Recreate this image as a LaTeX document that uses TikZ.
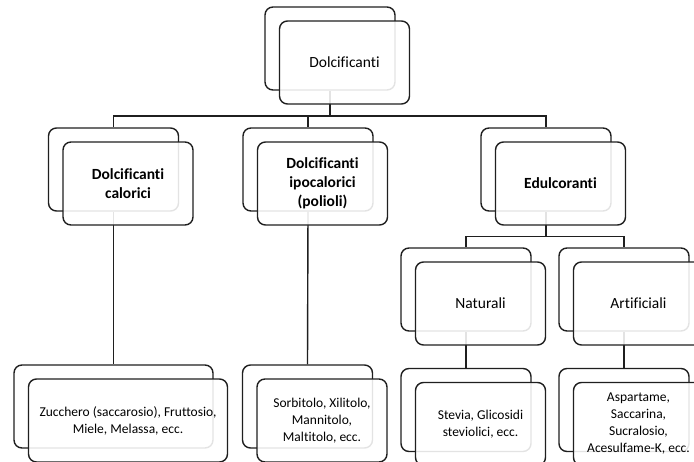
\documentclass[tikz,border=0pt]{standalone}
\usepackage{fontspec}
\setmainfont{Carlito}[Ligatures={NoCommon,NoContextual}]
\usetikzlibrary{backgrounds}

\begin{document}
\begin{tikzpicture}[x=1pt, y=-1pt,
	backbox/.style={rectangle, rounded corners=8pt, draw=black!88, line width=1.4pt, fill=white, minimum width=130pt, minimum height=83pt, align=center, inner sep=2pt},
	frontbox/.style={backbox, fill opacity=0.88, text opacity=1},
	head/.style={font=\fontsize{15.5}{19}\selectfont},
	leaf/.style={font=\fontsize{13.5}{17}\selectfont},
	conn/.style={draw=black!88, line width=1.4pt}]
			\path[use as bounding box, clip] (0,0) rectangle (694,461);
			
			\node[backbox] (root1) at (330,48.5){};
			\node[frontbox, head] (root2) at (344.5,62.5){Dolcificanti};
			
			\node[backbox] (cal1) at (113.5,169.5){};
			\node[frontbox, head] (cal2) at (128,183.5){\bfseries Dolcificanti\\\bfseries calorici};
			
			\node[backbox] (ipo1) at (308,169.5){};
			\node[frontbox, head] (ipo2) at (322.5,183.5){\bfseries Dolcificanti\\\bfseries ipocalorici\\\bfseries (polioli)};
			
			\node[backbox] (edu1) at (546,169.5){};
			\node[frontbox, head] (edu2) at (560.5,183.5){\bfseries Edulcoranti};
			
			\node[backbox] (nat1) at (466,289.5){};
			\node[frontbox, head] (nat2) at (480.5,303.5){Naturali};
			
			\node[backbox] (art1) at (624,289.5){};
			\node[frontbox, head] (art2) at (638.5,303.5){Artificiali};
			
			\node[backbox, minimum width=199pt] (zuc1) at (113.5,406.5){};
			\node[frontbox, leaf, minimum width=199pt] (zuc2) at (128,420.5){Zucchero (saccarosio), Fruttosio,\\Miele, Melassa, ecc.};
			
			\node[backbox] (sor1) at (307.5,406.5){};
			\node[frontbox, leaf] (sor2) at (322,420.5){Sorbitolo, Xilitolo,\\Mannitolo,\\Maltitolo, ecc.};
			
			\node[backbox] (ste1) at (466,410){};
			\node[frontbox, leaf] (ste2) at (480.5,424){Stevia, Glicosidi\\steviolici, ecc.};
			
			\node[backbox] (asp1) at (624,410){};
			\node[frontbox, leaf] (asp2) at (638.5,424){Aspartame,\\Saccarina,\\Sucralosio,\\Acesulfame-K, ecc.};
			
			\begin{scope}[on background layer]
			\coordinate (bus1) at (0,116);
			\coordinate (bus2) at (0,236.5);
			
			\draw[conn] (root1.south) -- (root1.south |- bus1) -| (cal1.north);
			\draw[conn] (root1.south |- bus1) -| (ipo1.north);
			\draw[conn] (root1.south |- bus1) -| (edu1.north);
			\draw[conn] (cal1.south) -- (zuc1.north);
			\draw[conn] (ipo1.south) -- (sor1.north);
			\draw[conn] (edu1.south) -- (edu1.south |- bus2) -| (nat1.north);
			\draw[conn] (edu1.south |- bus2) -| (art1.north);
			\draw[conn] (nat1.south) -- (ste1.north);
			\draw[conn] (art1.south) -- (asp1.north);
			\end{scope}
			\end{tikzpicture}
\end{document}
